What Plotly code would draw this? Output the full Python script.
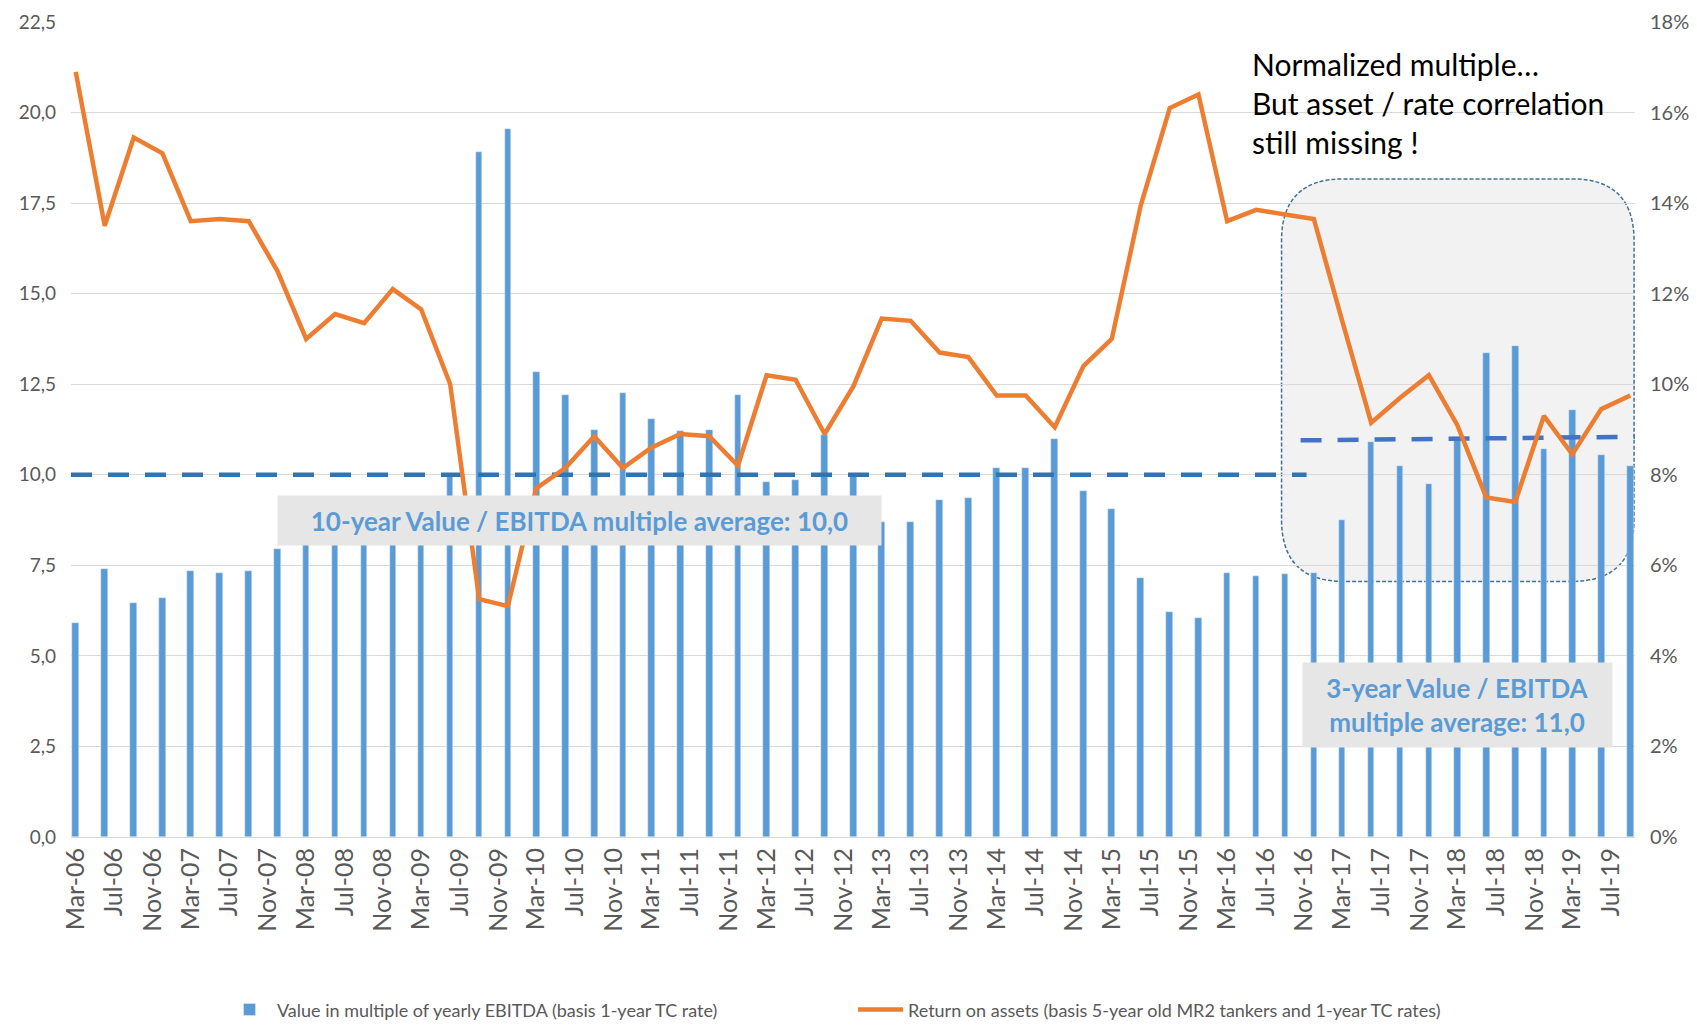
import pandas as pd
import plotly.graph_objects as go

# quarterly observations, Mar-06 .. Sep-19
quarters = pd.date_range("2006-03-01", periods=55, freq="3MS")

# value in multiple of yearly EBITDA (left axis)
ev_multiple = [5.9, 7.4, 6.45, 6.6, 7.35, 7.3, 7.35, 7.95, 8.4, 8.6,
               8.8, 9.0, 9.3, 10.0, 18.9, 19.55, 12.85, 12.2, 11.25, 12.25,
               11.55, 11.2, 11.25, 12.2, 9.8, 9.85, 11.1, 10.0, 8.7, 8.7,
               9.3, 9.35, 10.2, 10.2, 11.0, 9.55, 9.05, 7.15, 6.2, 6.05,
               7.3, 7.2, 7.25, 7.3, 8.75, 10.9, 10.25, 9.75, 11.0, 13.35,
               13.55, 10.7, 11.8, 10.55, 10.25]

# return on assets in % (right axis)
roa_pct = [16.9, 13.5, 15.45, 15.1, 13.6, 13.65, 13.6, 12.5, 11.0, 11.55,
           11.35, 12.1, 11.65, 10.0, 5.25, 5.1, 7.7, 8.15, 8.85, 8.15,
           8.6, 8.9, 8.85, 8.2, 10.2, 10.1, 8.9, 9.95, 11.45, 11.4,
           10.7, 10.6, 9.75, 9.75, 9.05, 10.4, 11.0, 13.95, 16.1, 16.4,
           13.6, 13.85, 13.75, 13.65, 11.4, 9.15, 9.7, 10.2, 9.1, 7.5,
           7.4, 9.3, 8.45, 9.45, 9.75]

# average multiple lines
avg10_dates = ["2006-02-14", "2016-11-08"]
avg10_vals = [10.0, 10.0]
avg3_dates = ["2016-10-20", "2019-09-16"]
avg3_vals = [10.95, 11.05]

bar_name = "Value in multiple of yearly EBITDA (basis 1-year TC rate)"
line_name = "Return on assets (basis 5-year old MR2 tankers and 1-year TC rates)"

FONT = "Lato, Calibri, sans-serif"
GREY = "#595959"

fig = go.Figure()
fig.add_trace(go.Bar(x=quarters, y=ev_multiple, name=bar_name,
                     marker_color="#5B9BD5", width=21 * 86400000))
fig.add_trace(go.Scatter(x=avg10_dates, y=avg10_vals, mode="lines", showlegend=False,
                         line=dict(color="#2E75B6", width=4.5, dash="21px,16px")))
fig.add_trace(go.Scatter(x=avg3_dates, y=avg3_vals, mode="lines", showlegend=False,
                         line=dict(color="#4472C4", width=4.5, dash="21px,16px")))
fig.add_trace(go.Scatter(x=quarters, y=roa_pct, name=line_name, mode="lines", yaxis="y2",
                         line=dict(color="#ED7D31", width=4.5)))

# rounded dashed highlight box (paper coords)
x0, x1, yb, yt = 0.774, 0.9994, 0.3136, 0.8075
rx, ry = 62 / 1564.3, 62 / 815
path = (f"M {x0+rx},{yt} L {x1-rx},{yt} Q {x1},{yt} {x1},{yt-ry} "
        f"L {x1},{yb+ry} Q {x1},{yb} {x1-rx},{yb} L {x0+rx},{yb} "
        f"Q {x0},{yb} {x0},{yb+ry} L {x0},{yt-ry} Q {x0},{yt} {x0+rx},{yt} Z")
fig.add_shape(type="path", path=path, xref="paper", yref="paper", layer="below",
              fillcolor="#F2F2F2", line=dict(color="#41719C", width=1.5, dash="4px,2px"))

fig.add_annotation(xref="paper", yref="paper", x=0.3253, y=0.3879,
                   xanchor="center", yanchor="middle",
                   text="<b>10-year Value / EBITDA multiple average: 10,0</b>",
                   showarrow=False, bgcolor="#E7E6E6", width=603, height=49, borderpad=0,
                   font=dict(family=FONT, size=26, color="#5B9BD5"))
fig.add_annotation(xref="paper", yref="paper", x=0.8865, y=0.1615,
                   xanchor="center", yanchor="middle",
                   text="<b>3-year Value / EBITDA<br>multiple average: 11,0</b>",
                   showarrow=False, bgcolor="#E7E6E6", width=309, height=84, borderpad=0,
                   font=dict(family=FONT, size=26, color="#5B9BD5"))
fig.add_annotation(xref="paper", yref="paper", x=0.754, y=0.9725, xanchor="left", yanchor="top",
                   text="Normalized multiple…<br>But asset / rate correlation<br>still missing !",
                   showarrow=False, align="left",
                   font=dict(family=FONT, size=30, color="black"))

# page body has an 8px margin, so the figure is sized to fit inside the window
fig.update_layout(
    width=1681, height=1016,
    margin=dict(l=63, r=54, t=14, b=187, autoexpand=False),
    plot_bgcolor="white", paper_bgcolor="white",
    separators=",.",
    font=dict(family=FONT, color=GREY),
    bargap=0,
    xaxis=dict(type="date", range=["2006-02-14", "2019-09-16"],
               tick0="2006-03-01", dtick="M4", tickformat="%b-%y", tickangle=-90,
               showgrid=False, showline=True, linecolor="#D9D9D9", ticks="",
               tickfont=dict(size=25, color=GREY)),
    yaxis=dict(range=[0, 22.5], dtick=2.5, tickformat=".1f", showgrid=True,
               gridcolor="#D9D9D9", zeroline=False, ticklabelstandoff=14,
               tickfont=dict(size=19, color=GREY)),
    yaxis2=dict(range=[0, 18], dtick=2, ticksuffix="%", overlaying="y", side="right",
                showgrid=False, zeroline=False, ticklabelstandoff=14,
                tickfont=dict(size=20, color=GREY)),
    legend=dict(orientation="h", x=0.5, xanchor="center", y=-0.212, yanchor="middle",
                font=dict(size=18, color=GREY), itemwidth=45, entrywidth=571),
)

fig.write_html("out.html")
